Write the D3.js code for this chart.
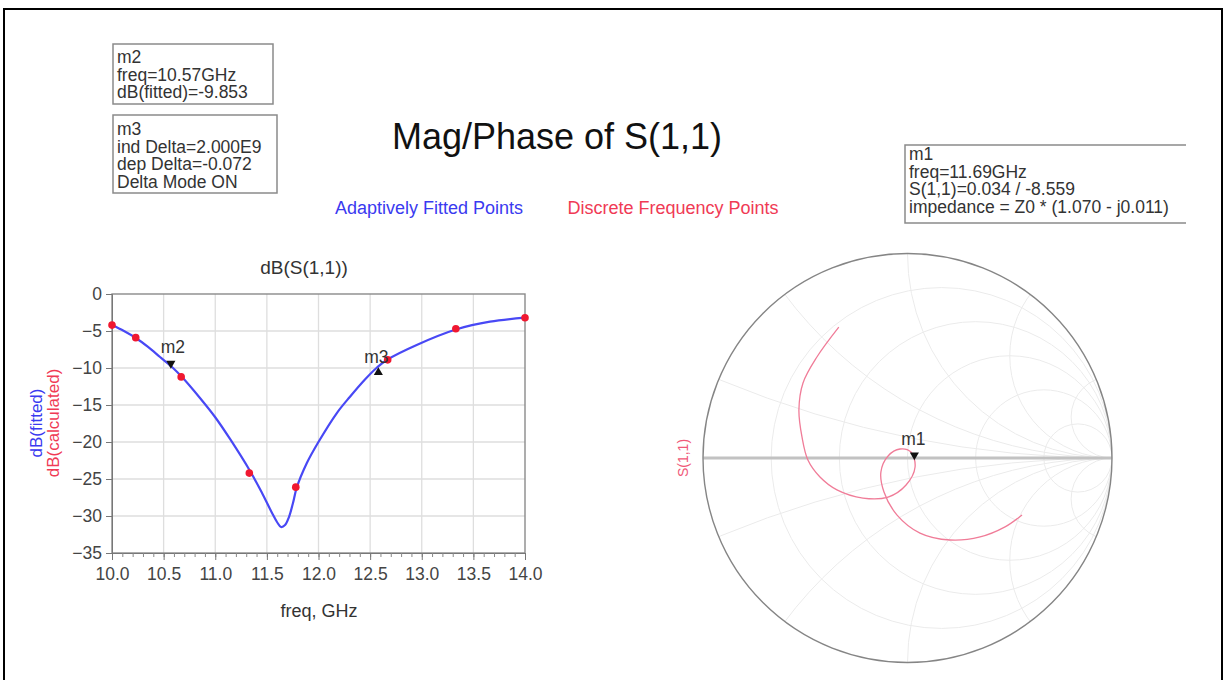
<!DOCTYPE html>
<html>
<head>
<meta charset="utf-8">
<script src="https://cdn.jsdelivr.net/npm/d3@7"></script>
<style>
  body { margin: 0; background: #fff; }
  svg { font-family: "Liberation Sans", Arial, sans-serif; }
</style>
</head>
<body>
<svg id="chart" width="1225" height="680"></svg>
<script>
// fitted curve
const fitFreq = [10.0, 10.116, 10.232, 10.349, 10.465, 10.581, 10.678, 10.852, 10.998, 11.143, 11.337, 11.453, 11.55, 11.598, 11.637, 11.676, 11.714, 11.753, 11.789, 11.886, 11.998, 12.176, 12.305, 12.45, 12.567, 12.661, 12.951, 13.338, 13.661, 14.0];
const fitDb = [-4.19, -5.0, -5.95, -7.16, -8.51, -9.86, -11.22, -14.05, -16.62, -19.59, -23.92, -26.89, -29.59, -30.81, -31.49, -31.22, -30.14, -28.24, -26.18, -22.88, -20.04, -16.12, -13.88, -11.55, -9.93, -8.92, -6.89, -4.77, -3.74, -3.2];
// discrete frequency points
const discFreq = [10.0, 10.23, 10.67, 11.33, 11.78, 12.67, 13.33, 14.0];
const discDb = [-4.2, -5.9, -11.2, -24.2, -26.1, -8.9, -4.7, -3.2];
const xTicks = [10.0, 10.5, 11.0, 11.5, 12.0, 12.5, 13.0, 13.5, 14.0];
const yTicks = [0, -5, -10, -15, -20, -25, -30, -35];
// S(1,1) on the Smith chart, reflection coefficient (re, im)
const s11Re = [-0.336, -0.443, -0.511, -0.531, -0.516, -0.487, -0.428, -0.345, -0.218, -0.095, -0.007, 0.037, 0.017, -0.037, -0.095, -0.130, -0.115, -0.051, 0.061, 0.208, 0.355, 0.477, 0.560];
const s11Im = [0.640, 0.494, 0.367, 0.235, 0.103, -0.010, -0.093, -0.156, -0.196, -0.191, -0.132, -0.044, 0.029, 0.044, 0.010, -0.068, -0.166, -0.279, -0.367, -0.401, -0.386, -0.337, -0.279];
const smithR = [0.2, 0.5, 1, 2, 5];
const smithX = [0.2, 0.5, 1, 2, 5];
// markers
const m2 = {freq: 10.57, db: -9.853};
const m3 = {freq: 12.57, db: -9.925};
const m1 = {mag: 0.034, ang: -8.559};
const m2Lines = ["m2", "freq=10.57GHz", "dB(fitted)=-9.853"];
const m3Lines = ["m3", "ind Delta=2.000E9", "dep Delta=-0.072", "Delta Mode ON"];
const m1Lines = ["m1", "freq=11.69GHz", "S(1,1)=0.034 / -8.559", "impedance = Z0 * (1.070 - j0.011)"];

const svg = d3.select("#chart");

// outer frame
svg.append("rect").attr("x", 4).attr("y", 9).attr("width", 1218).attr("height", 700)
    .attr("fill", "none").attr("stroke", "#000").attr("stroke-width", 2);

svg.append("text").attr("x", 557).attr("y", 149).attr("text-anchor", "middle")
    .attr("font-size", 36).attr("fill", "#111").text("Mag/Phase of S(1,1)");
svg.append("text").attr("x", 429).attr("y", 214).attr("text-anchor", "middle")
    .attr("font-size", 18).attr("fill", "#3a3af0").text("Adaptively Fitted Points");
svg.append("text").attr("x", 673).attr("y", 214).attr("text-anchor", "middle")
    .attr("font-size", 18).attr("fill", "#f03a55").text("Discrete Frequency Points");

function markerBox(bx, by, w, h, first, lines, clipW) {
    let g = svg.append("g");
    if (clipW) {
        svg.append("clipPath").attr("id", "m1clip").append("rect")
            .attr("x", bx - 2).attr("y", by - 2).attr("width", clipW).attr("height", h + 4);
        g.attr("clip-path", "url(#m1clip)");
    }
    g.append("rect").attr("x", bx).attr("y", by).attr("width", w).attr("height", h)
        .attr("fill", "#fff").attr("stroke", "#8a8a8a").attr("stroke-width", 1.5);
    g.selectAll("text").data(lines).enter().append("text")
        .attr("x", bx + 4).attr("y", (d, i) => by + first + i * 17.6)
        .attr("font-size", 17.5).attr("fill", "#333").text(d => d);
}
markerBox(113, 44, 160, 60, 19, m2Lines);
markerBox(113, 115, 164, 78, 20, m3Lines);
markerBox(905, 145, 320, 78, 15, m1Lines, 283);

// ---- rectangular plot ----
const x = d3.scaleLinear().domain([10, 14]).range([112, 525]);
const y = d3.scaleLinear().domain([-35, 0]).range([553, 294]);
const plot = svg.append("g");

plot.selectAll(".vgrid").data(xTicks.slice(1, -1)).enter().append("line")
    .attr("x1", d => x(d)).attr("x2", d => x(d)).attr("y1", y(0)).attr("y2", y(-35))
    .attr("stroke", "#dedede").attr("stroke-width", 1.3);
plot.selectAll(".hgrid").data(yTicks.slice(1, -1)).enter().append("line")
    .attr("x1", x(10)).attr("x2", x(14)).attr("y1", d => y(d)).attr("y2", d => y(d))
    .attr("stroke", "#dedede").attr("stroke-width", 1.3);
plot.append("rect").attr("x", x(10)).attr("y", y(0)).attr("width", x(14) - x(10)).attr("height", y(-35) - y(0))
    .attr("fill", "none").attr("stroke", "#8a8a8a").attr("stroke-width", 1.4);

const xAxis = plot.append("g").attr("transform", "translate(0," + y(-35) + ")")
    .call(d3.axisBottom(x).tickValues(d3.range(100, 141).map(v => v / 10)).tickSizeInner(4).tickSizeOuter(0).tickFormat(""));
xAxis.select(".domain").attr("stroke", "#777");
xAxis.selectAll(".tick line").attr("stroke", "#888");
const xMaj = plot.append("g").attr("transform", "translate(0," + y(-35) + ")")
    .call(d3.axisBottom(x).tickValues(xTicks).tickSize(7).tickPadding(8).tickFormat(d3.format(".1f")));
xMaj.select(".domain").remove();
xMaj.selectAll(".tick line").attr("stroke", "#777");
xMaj.selectAll("text").attr("font-size", 17.5).attr("fill", "#444").attr("font-family", "Liberation Sans, Arial");

const yAxis = plot.append("g").attr("transform", "translate(" + x(10) + ",0)")
    .call(d3.axisLeft(y).tickValues(yTicks).tickSize(6).tickPadding(4));
yAxis.select(".domain").attr("stroke", "#777");
yAxis.selectAll(".tick line").attr("stroke", "#777");
yAxis.selectAll("text").attr("font-size", 17.5).attr("fill", "#444").attr("font-family", "Liberation Sans, Arial");

svg.append("text").attr("x", 304).attr("y", 274).attr("text-anchor", "middle")
    .attr("font-size", 19).attr("fill", "#333").text("dB(S(1,1))");
svg.append("text").attr("x", 319).attr("y", 617).attr("text-anchor", "middle")
    .attr("font-size", 18).attr("fill", "#333").text("freq, GHz");
svg.append("text").attr("transform", "translate(42,423) rotate(-90)").attr("text-anchor", "middle")
    .attr("font-size", 17).attr("fill", "#3a3af0").text("dB(fitted)");
svg.append("text").attr("transform", "translate(59,423) rotate(-90)").attr("text-anchor", "middle")
    .attr("font-size", 17).attr("fill", "#f03a55").text("dB(calculated)");

const line = d3.line().curve(d3.curveCatmullRom)
    .x((d, i) => x(fitFreq[i])).y(d => y(d));
plot.append("path").datum(fitDb).attr("d", line)
    .attr("fill", "none").attr("stroke", "#4848f5").attr("stroke-width", 2.2);
plot.selectAll(".pt").data(discDb).enter().append("circle")
    .attr("cx", (d, i) => x(discFreq[i])).attr("cy", d => y(d)).attr("r", 3.8)
    .attr("fill", "#f01830");

const tri = d3.symbol().type(d3.symbolTriangle).size(36);
plot.append("path").attr("d", tri)
    .attr("transform", "translate(" + x(m2.freq) + "," + (y(m2.db) - 3.5) + ") rotate(180)").attr("fill", "#111");
plot.append("text").attr("x", x(m2.freq) + 2).attr("y", y(m2.db) - 14).attr("text-anchor", "middle")
    .attr("font-size", 17.5).attr("fill", "#333").text("m2");
plot.append("path").attr("d", tri)
    .attr("transform", "translate(" + (x(m3.freq) + 1) + "," + (y(m3.db) + 5) + ")").attr("fill", "#111");
plot.append("text").attr("x", x(m3.freq) - 1).attr("y", y(m3.db) - 4).attr("text-anchor", "middle")
    .attr("font-size", 17.5).attr("fill", "#333").text("m3");

// ---- Smith chart ----
const cx = 907.5, cy = 458, R = 204.5;
const gx = d3.scaleLinear().domain([-1, 1]).range([cx - R, cx + R]);
const gy = d3.scaleLinear().domain([-1, 1]).range([cy + R, cy - R]);
svg.append("clipPath").attr("id", "smithClip").append("circle")
    .attr("cx", cx).attr("cy", cy).attr("r", R);
const smith = svg.append("g");
const grid = smith.append("g").attr("clip-path", "url(#smithClip)")
    .attr("fill", "none").attr("stroke", "#ebebeb").attr("stroke-width", 1);
grid.selectAll(".rc").data(smithR).enter().append("circle")
    .attr("cx", d => gx(d / (1 + d))).attr("cy", gy(0)).attr("r", d => gx(1 / (1 + d)) - gx(0));
grid.selectAll(".xc").data(smithX.concat(smithX.map(v => -v))).enter().append("circle")
    .attr("cx", gx(1)).attr("cy", d => gy(1 / d)).attr("r", d => gx(1 / Math.abs(d)) - gx(0));
smith.append("line").attr("x1", gx(-1)).attr("x2", gx(1)).attr("y1", gy(0)).attr("y2", gy(0))
    .attr("stroke", "#c2c2c2").attr("stroke-width", 3);
smith.append("circle").attr("cx", cx).attr("cy", cy).attr("r", R)
    .attr("fill", "none").attr("stroke", "#858585").attr("stroke-width", 1.4);

const sLine = d3.line().curve(d3.curveCatmullRom)
    .x((d, i) => gx(s11Re[i])).y(d => gy(d));
smith.append("path").datum(s11Im).attr("d", sLine)
    .attr("fill", "none").attr("stroke", "#f07c98").attr("stroke-width", 1.3);

const m1re = m1.mag * Math.cos(m1.ang * Math.PI / 180);
const m1im = m1.mag * Math.sin(m1.ang * Math.PI / 180);
smith.append("path").attr("d", tri)
    .attr("transform", "translate(" + gx(m1re) + "," + (gy(m1im) - 4) + ") rotate(180)").attr("fill", "#111");
smith.append("text").attr("x", gx(m1re) - 1).attr("y", gy(m1im) - 14).attr("text-anchor", "middle")
    .attr("font-size", 17.5).attr("fill", "#333").text("m1");
svg.append("text").attr("transform", "translate(688," + cy + ") rotate(-90)").attr("text-anchor", "middle")
    .attr("font-size", 14).attr("fill", "#f05878").text("S(1,1)");
</script>
</body>
</html>
